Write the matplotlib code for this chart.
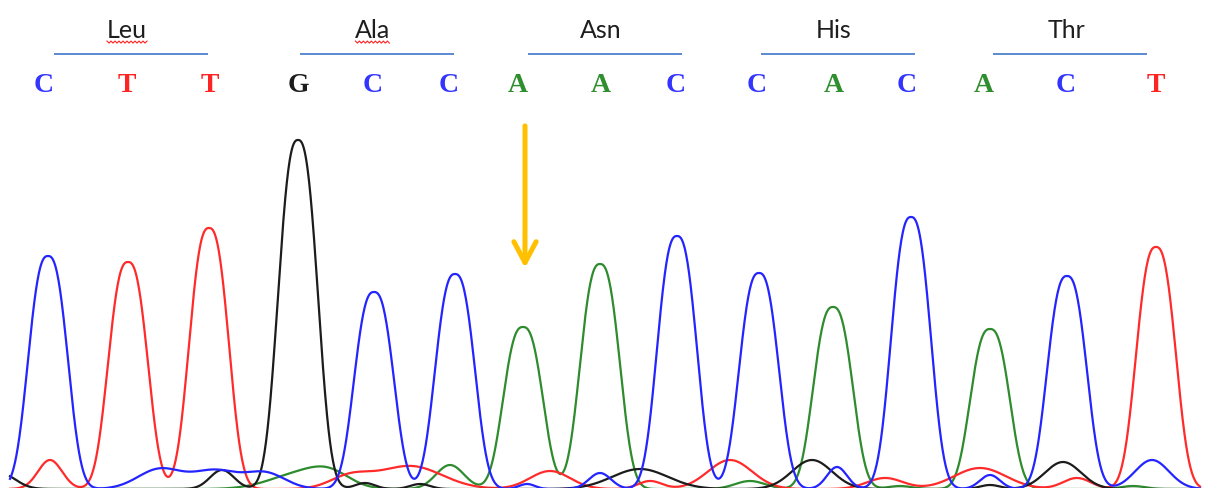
import numpy as np
import matplotlib
matplotlib.use("Agg")
import matplotlib.pyplot as plt
from matplotlib.transforms import blended_transform_factory

# ---- base calls -----------------------------------------------------------
bases = ["C", "T", "T", "G", "C", "C", "A", "A", "C", "C", "A", "C", "A", "C", "T"]
call_pos = [44, 127, 210, 298, 373, 449, 518, 601, 676, 757, 834, 907, 984, 1066, 1156]

# ---- main peaks (scan position, signal height) ----------------------------
peak_pos = [48, 128, 209, 298, 374, 455, 523, 600, 677, 759, 833, 911, 990, 1067, 1156]
peak_height = [233, 227, 261, 349, 197, 215, 162, 225, 253, 216, 182, 272, 160, 213, 242]

# ---- background signal per channel: (position, height, width) -----------
bg_C_pos = [160, 215, 265, 527, 600, 837, 990, 1152]
bg_C_height = [20, 18, 16, 5, 16, 22, 14, 29]
bg_C_width = [22, 22, 20, 8, 11, 10, 10, 17]

bg_G_pos = [0, 222, 365, 420, 640, 812, 990, 1063]
bg_G_height = [16, 19, 6, 5, 20, 29, 4, 27]
bg_G_width = [15, 12, 10, 10, 28, 20, 10, 18]

bg_T_pos = [50, 350, 410, 550, 650, 730, 885, 980, 1077]
bg_T_height = [29, 12, 23, 18, 8, 29, 11, 21, 11]
bg_T_width = [12, 20, 32, 20, 12, 22, 18, 26, 14]

bg_A_pos = [300, 330, 450, 750, 900, 1133]
bg_A_height = [15, 12, 24, 8, 3, 3]
bg_A_width = [30, 20, 14, 15, 12, 12]

# ---- codons ---------------------------------------------------------------
codons = ["Leu", "Ala", "Asn", "His", "Thr"]
codon_first_base = [0, 3, 6, 9, 12]
mutated_base = 6

colors = {"A": "#2e8b2e", "C": "#2424ff", "G": "#1c1c1c", "T": "#ff2b2b"}
label_colors = {"A": "#2f8f2f", "C": "#3434ff", "G": "#1c1c1c", "T": "#ff2424"}

SHAPE_P = 2.6
SHAPE_S = 24.5

x = np.linspace(10, 1200, 2400)


def channel(base, bg_pos, bg_h, bg_w):
    y = np.zeros_like(x)
    for b, p, h in zip(bases, peak_pos, peak_height):
        if b == base:
            y += h * np.exp(-np.abs((x - p) / SHAPE_S) ** SHAPE_P)
    for p, h, w in zip(bg_pos, bg_h, bg_w):
        y += h * np.exp(-0.5 * ((x - p) / w) ** 2)
    return y


fig = plt.figure(figsize=(12.08, 4.88), dpi=100)
ax = fig.add_axes([0, 0, 1, 1])
ax.set_xlim(0, 1208)
ax.set_ylim(1, 489)
ax.axis("off")

traces = {
    "A": channel("A", bg_A_pos, bg_A_height, bg_A_width),
    "T": channel("T", bg_T_pos, bg_T_height, bg_T_width),
    "G": channel("G", bg_G_pos, bg_G_height, bg_G_width),
    "C": channel("C", bg_C_pos, bg_C_height, bg_C_width),
}
for b in ["A", "T", "G", "C"]:
    ax.plot(x, traces[b], color=colors[b], lw=1.6, solid_joinstyle="round")

trans = blended_transform_factory(ax.transData, ax.transAxes)

# base call letters
for b, p in zip(bases, call_pos):
    ax.text(p, 0.824, b, transform=trans, ha="center", va="center",
            fontsize=20, fontweight="bold", family="Liberation Serif",
            color=label_colors[b])

# codon labels with bars
label_texts = []
for name, first in zip(codons, codon_first_base):
    mid = call_pos[first + 1]
    ax.plot([mid - 73, mid + 81], [0.889, 0.889], transform=trans,
            color="#5b8ad0", lw=1.4, solid_capstyle="butt")
    t = ax.text(mid, 0.922, name, transform=trans, ha="center",
                va="baseline", fontsize=18, family="Lato", color="#1e1e1e")
    label_texts.append((name, t))

# spell-check squiggles under two labels
fig.canvas.draw()
renderer = fig.canvas.get_renderer()
for name, t in label_texts:
    if name in ("Leu", "Ala"):
        bb = t.get_window_extent(renderer)
        base_y = ax.transAxes.transform((0, 0.922))[1]
        xs = np.arange(bb.x0, bb.x1 + 0.1, 2.0)
        ys = base_y - 4 + np.where(np.arange(len(xs)) % 2 == 0, 1.0, -1.0)
        pts = fig.transFigure.inverted().transform(np.column_stack([xs, ys]))
        fig.lines.append(plt.Line2D(pts[:, 0], pts[:, 1], color="#ff2020",
                                    lw=0.8, transform=fig.transFigure))

# arrow marking the substituted base
ax.annotate("", xy=(peak_pos[mutated_base] + 2, 0.451), xycoords=trans,
            xytext=(peak_pos[mutated_base] + 2, 0.742), textcoords=trans,
            arrowprops=dict(arrowstyle="->,head_length=0.47,head_width=0.25",
                            color="#ffc000", lw=3.6,
                            mutation_scale=32, shrinkA=0, shrinkB=0))

fig.savefig("out.png", dpi=100, facecolor="white")
